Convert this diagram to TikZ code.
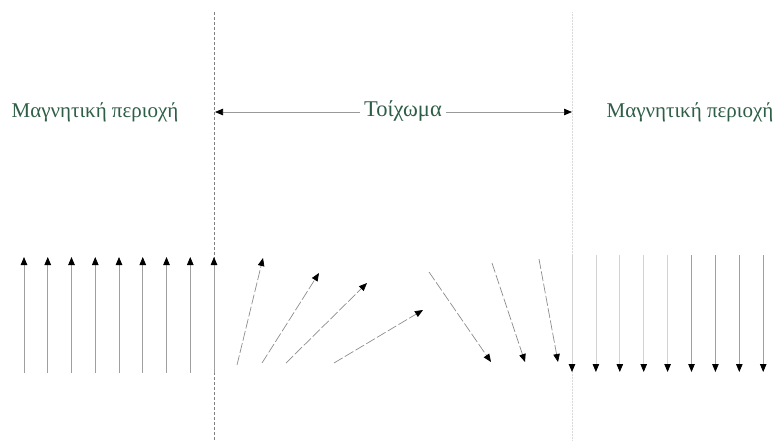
\documentclass[tikz,border=0pt]{standalone}
\usepackage{fontspec}
\setmainfont{Liberation Serif}
\usetikzlibrary{arrows.meta,positioning}
\definecolor{regiongreen}{RGB}{46,94,70}

\tikzset{
  tip/.style={-{Triangle[black,length=8pt,width=6.5pt]}},
  spin/.style={tip, draw=gray!75, line width=0.8pt},
  tiltspin/.style={tip, draw=gray!90, line width=0.7pt, dash pattern=on 10pt off 2.5pt},
  faintspin/.style={tip, draw=gray!35, line width=0.8pt},
  label/.style={text=regiongreen, font=\fontsize{21}{24}\selectfont, inner sep=4pt}
}

\begin{document}
\begin{tikzpicture}[x=1pt, y=-1pt]
    \useasboundingbox (0,0) rectangle (776,440);
    % walls
    \draw[gray, densely dashed, line width=0.5pt] (214,12) -- (214,440);
    \draw[gray!30, densely dotted, line width=0.5pt] (572,12) -- (572,440);
    % labels
    \node[label] (left) at (95,112) {Μαγνητική περιοχή};
    \node[label] (right) at (690,112) {Μαγνητική περιοχή};
    \node[label, font=\fontsize{22.5}{26}\selectfont] (wall) at (403,111) {Τοίχωμα};
    \coordinate (wl) at (215,112);
    \coordinate (wr) at (572,112);
    \draw[tip, gray!80, line width=0.7pt] (wall.west |- wl) -- (wl);
    \draw[tip, gray!80, line width=0.7pt] (wall.east |- wr) -- (wr);
    % up spins
    \foreach \i in {0,...,8} {
        \coordinate (ub\i) at (24+23.75*\i,373);
        \coordinate (ut\i) at (24+23.75*\i,257);
        \draw[spin] (ub\i) -- (ut\i);
    }
    % rotating spins in the wall
    \foreach \a/\b/\c/\d [count=\n] in {237/365/263/258, 262/363/319/273, 286/363/367/283,
        334/363/423/310, 429/272/491/362, 492/263/525/362, 539/259/558/362} {
        \coordinate (rs\n) at (\a,\b);
        \coordinate (re\n) at (\c,\d);
        \draw[tiltspin] (rs\n) -- (re\n);
    }
    % down spins
    \foreach \i in {0,...,8} {
        \coordinate (dt\i) at (572+23.9*\i,255);
        \coordinate (db\i) at (572+23.9*\i,372);
        \ifnum\i<5
            \draw[faintspin] (dt\i) -- (db\i);
        \else
            \draw[spin] (dt\i) -- (db\i);
        \fi
    }
\end{tikzpicture}
\end{document}
